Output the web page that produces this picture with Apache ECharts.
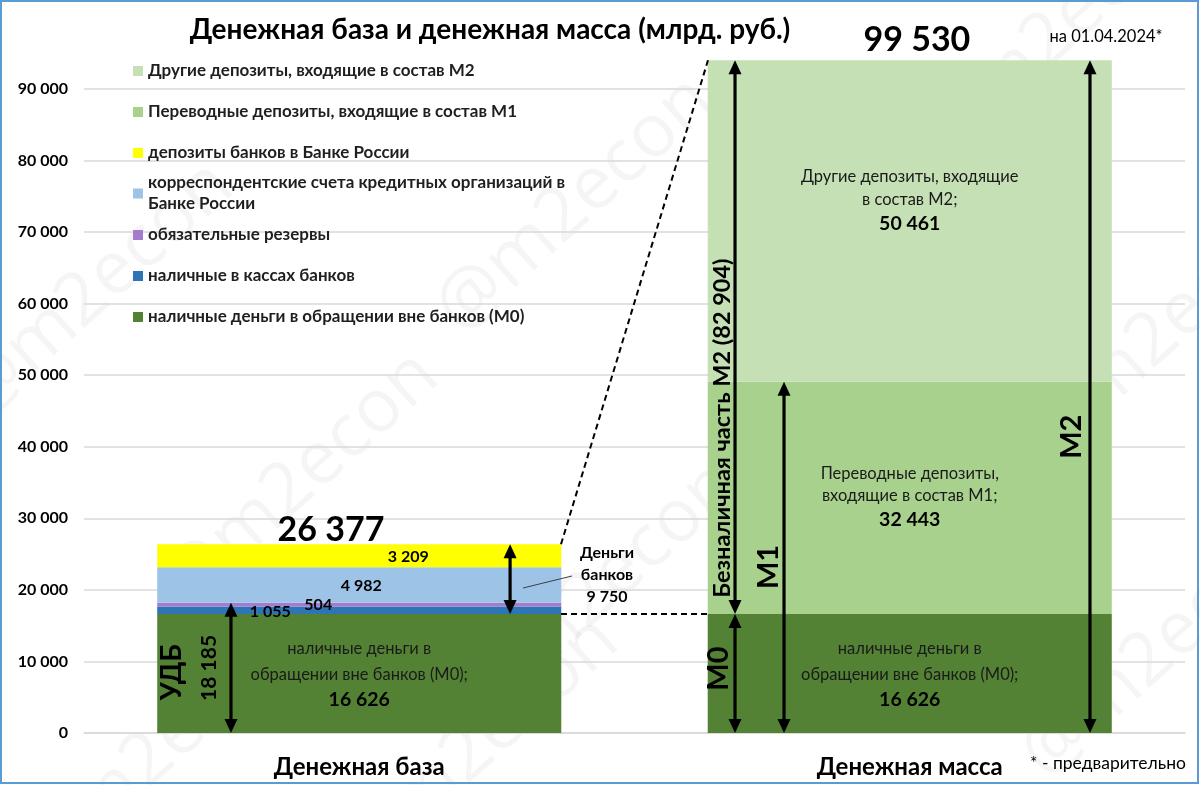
<!DOCTYPE html>
<html><head><meta charset="utf-8">
<script src="https://cdn.jsdelivr.net/npm/echarts@6/dist/echarts.min.js"></script>
<style>html,body{margin:0;padding:0;background:#fff}#c{width:1200px;height:785px}</style>
</head><body><div id="c"></div>
<script>
// ---------- DATA ----------
const categories = ['Денежная база', 'Денежная масса'];
const seriesNames = [
  'наличные деньги в обращении вне банков (М0)',
  'наличные в кассах банков',
  'обязательные резервы',
  'корреспондентские счета кредитных организаций в Банке России',
  'депозиты банков в Банке России',
  'Переводные депозиты, входящие в состав М1',
  'Другие депозиты, входящие в состав М2'
];
const cashOutsideBanks = [16626, 16626];
const cashInBanks = [1055, null];
const requiredReserves = [504, null];
const correspondentAccounts = [4982, null];
const bankDepositsCBR = [3209, null];
const transferDeposits = [null, 32443];
const otherDeposits = [null, 50461];
const totals = [26377, 99530];
const adjustedBase = 18185;   // УДБ
const banksMoney = 9750;      // Деньги банков
const nonCashM2 = 82904;      // Безналичная часть М2
const m1Total = cashOutsideBanks[1] + transferDeposits[1];
const yMin = 0, yMax = 94000, yInterval = 10000;
const dateNote = 'на 01.04.2024*';
const footNote = '* - предварительно';
const titleText = 'Денежная база и денежная масса (млрд. руб.)';

// ---------- HELPERS / STYLE ----------
const FONT = 'Lato, "Open Sans", sans-serif';
const fmt = v => String(v).replace(/\B(?=(\d{3})+(?!\d))/g, ' ');
const colors = ['#548235', '#2e75b6', '#a47bcf', '#9dc3e6', '#ffff00', '#a9d18e', '#c5e0b4'];

function bar(idx, data, label) {
  return {
    name: seriesNames[idx], type: 'bar', stack: 'total', xAxisIndex: 0, yAxisIndex: 0,
    barWidth: '73.4%', data: data, itemStyle: { color: colors[idx] },
    label: label || { show: false }, emphasis: { disabled: true }, silent: true
  };
}
function smallLabel(offset) {
  return { show: true, position: 'inside', offset: offset, formatter: p => fmt(p.value),
    color: '#000', fontFamily: FONT, fontWeight: 'bold', fontSize: 16 };
}
function richLabel(lines, number, lh, lhNum, offset) {
  return {
    show: true, position: 'inside', offset: offset || [0, 0],
    formatter: () => lines.map(l => '{t|' + l + '}').join('\n') + '\n{b|' + fmt(number) + '}',
    rich: {
      t: { fontFamily: FONT, fontSize: 16.5, color: '#1a1a1a', lineHeight: lh, align: 'center' },
      b: { fontFamily: FONT, fontSize: 19.5, fontWeight: 'bold', color: '#000', lineHeight: lhNum, align: 'center' }
    }
  };
}

// arrows: [x on helper axis, from value, to value]
const arrows = [
  [0.267, 0, adjustedBase],
  [0.774, cashOutsideBanks[0], totals[0]],
  [1.1826, cashOutsideBanks[1], yMax],
  [1.1826, 0, cashOutsideBanks[1]],
  [1.2716, 0, m1Total],
  [1.8274, 0, yMax]
];
// connectors: [x1, y1, x2, y2, dashed]
const connectors = [
  [0.8665, totals[0], 1.1335, yMax, 1],
  [0.8665, cashOutsideBanks[0], 1.1335, cashOutsideBanks[1], 1],
  [0.7975, 20260, 0.8865, 21940, 0]
];
// text annotations
const notes = [
  { p: [0.160, 8500], text: 'УДБ', size: 28, rot: 90 },
  { p: [0.227, adjustedBase / 2], text: fmt(adjustedBase), size: 21, rot: 90 },
  { p: [0.950, 22080], text: 'Деньги\nбанков\n' + fmt(banksMoney), size: 16, lh: 22 },
  { p: [1.159, 42600], text: 'Безналичная часть М2 (' + fmt(nonCashM2) + ')', size: 23.5, rot: 90 },
  { p: [1.1535, 9000], text: 'М0', size: 29, rot: 90 },
  { p: [1.2443, 23200], text: 'М1', size: 29, rot: 90 },
  { p: [1.7947, 41400], text: 'М2', size: 29, rot: 90 },
  { p: [0.4487, 28400], text: fmt(totals[0]), size: 34 },
  { p: [1.513, 96850], text: fmt(totals[1]), size: 34 }
];

// legend (top to bottom)
const legendOrder = [6, 5, 4, 3, 2, 1, 0];
const legends = legendOrder.map((si, i) => {
  const c = 71 + 41 * i;
  const two = si === 3;
  return {
    data: [seriesNames[si]], orient: 'vertical', left: 133, top: two ? c - 32 : c - 10.5,
    padding: 0, icon: 'rect', itemWidth: 10, itemHeight: 10, selectedMode: false,
    formatter: two ? (n => n.replace(' Банке', '\nБанке')) : (n => n),
    textStyle: { fontFamily: FONT, fontSize: 17, fontWeight: 'bold', color: '#1f1f1f',
      lineHeight: two ? 21 : 21, padding: two ? [21, 0, 0, 0] : 0 }
  };
});

// watermark positions (decorative)
const wm = [[95, 290], [575, 205], [1060, 30], [1165, 330], [300, 480], [600, 590], [160, 750], [480, 745], [1160, 650]];

const chart = echarts.init(document.getElementById('c'));
chart.setOption({
  animation: false,
  backgroundColor: '#fff',
  legend: legends,
  grid: { left: 84, right: 15, top: 60.3, bottom: 52, containLabel: false },
  xAxis: [
    { type: 'category', data: categories, axisTick: { show: false },
      axisLine: { lineStyle: { color: '#d9d9d9', width: 1.5 } },
      axisLabel: { fontFamily: FONT, fontSize: 24, fontWeight: 'bold', color: '#000', margin: 22 } },
    { type: 'value', min: 0, max: 2, show: false, position: 'top' }
  ],
  yAxis: [{
    type: 'value', min: yMin, max: yMax, interval: yInterval,
    axisLine: { show: false }, axisTick: { show: false },
    axisLabel: { fontFamily: FONT, fontSize: 16, fontWeight: 'bold', color: '#000', margin: 16,
      formatter: v => fmt(v), showMaxLabel: false },
    splitLine: { showMaxLine: false, lineStyle: { color: '#d9d9d9', width: 1.5 } }
  }],
  graphic: [
    ...wm.map(([x, y]) => ({ type: 'text', x: x, y: y, rotation: 42 * Math.PI / 180, z: -10, silent: true,
      style: { text: '@m2econ', fontFamily: '"Open Sans", sans-serif', fontSize: 74, fill: 'rgba(0,0,0,0.04)', align: 'center', verticalAlign: 'middle' } })),
    { type: 'text', x: 490, y: 30, z: 100, style: { text: titleText, fontFamily: FONT, fontSize: 28, fontWeight: 'bold', fill: '#000', align: 'center', verticalAlign: 'middle' } },
    { type: 'text', x: 1106, y: 37, z: 100, style: { text: dateNote, fontFamily: FONT, fontSize: 16.5, fill: '#000', align: 'center', verticalAlign: 'middle' } },
    { type: 'text', x: 1108, y: 763, z: 100, style: { text: footNote, fontFamily: FONT, fontSize: 17.5, fill: '#000', align: 'center', verticalAlign: 'middle' } },
    { type: 'rect', z: 100, shape: { x: 1, y: 1, width: 1197, height: 782 }, style: { fill: 'none', stroke: '#5b9bd5', lineWidth: 2 } }
  ],
  series: [
    bar(0, cashOutsideBanks, richLabel(['наличные деньги в', 'обращении вне банков (М0);'], cashOutsideBanks[0], 26, 24)),
    bar(1, cashInBanks, smallLabel([-89, 2])),
    bar(2, requiredReserves, smallLabel([-41, 0])),
    bar(3, correspondentAccounts, smallLabel([2, 1])),
    bar(4, bankDepositsCBR, smallLabel([49, 1])),
    bar(5, transferDeposits, richLabel(['Переводные депозиты,', 'входящие в состав М1;'], transferDeposits[1], 22, 26)),
    bar(6, otherDeposits, richLabel(['Другие депозиты, входящие', 'в состав М2;'], otherDeposits[1], 23, 26, [0, -20])),
    {
      type: 'custom', xAxisIndex: 1, yAxisIndex: 0, silent: true, z: 20,
      data: connectors, encode: { x: [0, 2], y: [1, 3] },
      renderItem: (params, api) => {
        const a = api.coord([api.value(0), api.value(1)]);
        const b = api.coord([api.value(2), api.value(3)]);
        const dashed = api.value(4) === 1;
        return { type: 'line', shape: { x1: a[0], y1: a[1], x2: b[0], y2: b[1] },
          style: dashed ? { stroke: '#000', lineWidth: 2, lineDash: [6, 4] } : { stroke: '#404040', lineWidth: 1 } };
      }
    },
    {
      type: 'custom', xAxisIndex: 1, yAxisIndex: 0, silent: true, z: 21,
      data: arrows, encode: { x: 0, y: [1, 2] },
      renderItem: (params, api) => {
        const p1 = api.coord([api.value(0), api.value(1)]);
        const p2 = api.coord([api.value(0), api.value(2)]);
        const x = p1[0], hl = 14, hw = 6.5;
        return { type: 'group', children: [
          { type: 'line', shape: { x1: x, y1: p1[1] - hl + 2, x2: x, y2: p2[1] + hl - 2 }, style: { stroke: '#000', lineWidth: 3.2 } },
          { type: 'polygon', shape: { points: [[x, p2[1]], [x - hw, p2[1] + hl], [x + hw, p2[1] + hl]] }, style: { fill: '#000' } },
          { type: 'polygon', shape: { points: [[x, p1[1]], [x - hw, p1[1] - hl], [x + hw, p1[1] - hl]] }, style: { fill: '#000' } }
        ] };
      }
    },
    {
      type: 'custom', xAxisIndex: 1, yAxisIndex: 0, silent: true, z: 22,
      data: notes.map(n => n.p), encode: { x: 0, y: 1 },
      renderItem: (params, api) => {
        const n = notes[params.dataIndex];
        const p = api.coord([api.value(0), api.value(1)]);
        return { type: 'text', x: p[0], y: p[1], rotation: (n.rot || 0) * Math.PI / 180,
          style: { text: n.text, fontFamily: FONT, fontSize: n.size, fontWeight: 'bold', fill: '#000',
            lineHeight: n.lh || n.size * 1.2, align: 'center', verticalAlign: 'middle' } };
      }
    }
  ]
});
</script></body></html>
